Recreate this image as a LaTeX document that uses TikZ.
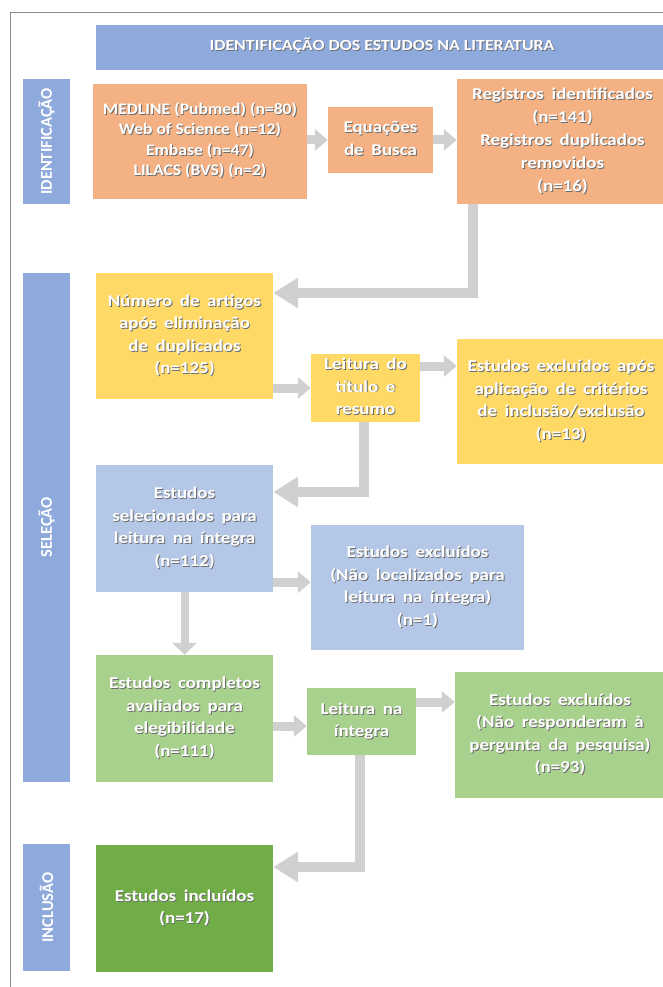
\documentclass[tikz,border=0pt]{standalone}
\usepackage{fontspec}
\usepackage{graphicx}
\setmainfont{Carlito}
\usetikzlibrary{arrows.meta,calc}

\definecolor{hdrblue}{HTML}{8EA9DB}
\definecolor{orng}{HTML}{F4B183}
\definecolor{yell}{HTML}{FFD966}
\definecolor{lblue}{HTML}{B4C7E7}
\definecolor{lgreen}{HTML}{A9D18E}
\definecolor{dgreen}{HTML}{70AD47}
\definecolor{arrowgray}{HTML}{D0D0D0}
\definecolor{shade}{HTML}{6E6E6E}
\definecolor{framegray}{HTML}{8C8C8C}

% wider gaps between words
\newcommand\wordgaps{\spaceskip 0.4em\relax}
% white text, widened, with a soft dark drop shadow
\newcommand\shadowed[2][1.15]{\leavevmode\scalebox{#1}[1]{\rlap{\kern0.8pt\raisebox{-0.8pt}{\color{shade}\begin{tabular}{@{}c@{}}#2\end{tabular}}}\begin{tabular}{@{}c@{}}#2\end{tabular}}}

\tikzset{
  box/.style={rectangle, inner sep=0pt, text=white,
    font=\bfseries\fontsize{16.5}{22.5}\selectfont\wordgaps},
  lbl/.style={rectangle, inner sep=0pt, fill=hdrblue, text=white,
    font=\bfseries\fontsize{16.5}{18}\selectfont},
  arr/.style={draw=arrowgray, line width=9pt, -{Triangle[length=13pt,width=21pt]}},
  elbow/.style={draw=arrowgray, line width=10pt, -{Triangle[length=25pt,width=29pt]}},
}

\begin{document}
\begin{tikzpicture}[x=1pt, y=-1pt]
\useasboundingbox (0,0) rectangle (663,987);
\clip (0,0) rectangle (663,987);

% outer frame
\draw[framegray, line width=1pt] (10,1000) -- (10,13) -- (700,13);

% header band
\node[box, fill=hdrblue, minimum width=572pt, minimum height=45pt,
      font=\bfseries\fontsize{15.5}{17}\selectfont] (hdr) at (382,47.5)
  {\shadowed{IDENTIFICAÇÃO DOS ESTUDOS NA LITERATURA}};

% phase labels
\node[lbl, rotate=90, minimum width=125pt, minimum height=47pt] (idl) at (46.5,141.5) {IDENTIFICAÇÃO};
\node[lbl, rotate=90, minimum width=509pt, minimum height=47pt] (sll) at (46.5,527.5) {SELEÇÃO};
\node[lbl, rotate=90, minimum width=127pt, minimum height=47pt] (icl) at (46.5,907.5) {INCLUSÃO};

% identification
\node[box, fill=orng, minimum width=214pt, minimum height=115pt,
      font=\bfseries\fontsize{16}{20.5}\selectfont] (medline) at (200,141.5)
  {\shadowed[1.1]{MEDLINE (Pubmed) (n=80)\\Web of Science (n=12)\\Embase (n=47)\\LILACS (BVS) (n=2)}};
\node[box, fill=orng, minimum width=105pt, minimum height=66pt] (equ) at (380.5,140)
  {\shadowed{Equações\\de Busca}};
\node[box, fill=orng, minimum width=211pt, minimum height=125pt,
      font=\bfseries\fontsize{16.5}{23}\selectfont\wordgaps] (reg) at (562.5,141.5)
  {\shadowed{Registros identificados\\(n=141)\\Registros duplicados\\removidos\\(n=16)}};

% screening
\node[box, fill=yell, minimum width=177pt, minimum height=126pt] (num) at (184.5,336)
  {\shadowed{Número de artigos\\após eliminação\\de duplicados\\(n=125)}};
\node[box, fill=yell, minimum width=109pt, minimum height=68pt] (lt) at (365.5,388)
  {\shadowed{Leitura do\\título e\\resumo}};
\node[box, fill=yell, minimum width=208pt, minimum height=125pt] (exc1) at (561,401.5)
  {\shadowed{Estudos excluídos após\\aplicação de critérios\\de inclusão/exclusão\\(n=13)}};

\node[box, fill=lblue, minimum width=177pt, minimum height=127pt] (sel) at (184.5,528.5)
  {\shadowed{Estudos\\selecionados para\\leitura na íntegra\\(n=112)}};
\node[box, fill=lblue, minimum width=213pt, minimum height=125pt] (nl) at (417.5,587.5)
  {\shadowed{Estudos excluídos\\(Não localizados para\\leitura na íntegra)\\(n=1)}};

\node[box, fill=lgreen, minimum width=177pt, minimum height=127pt] (comp) at (184.5,718.5)
  {\shadowed{Estudos completos\\avaliados para\\elegibilidade\\(n=111)}};
\node[box, fill=lgreen, minimum width=109pt, minimum height=67pt] (li) at (361.5,721.5)
  {\shadowed{Leitura na\\íntegra}};
\node[box, fill=lgreen, minimum width=210pt, minimum height=126pt] (exc2) at (560,735)
  {\shadowed{Estudos excluídos\\(Não responderam à\\pergunta da pesquisa)\\(n=93)}};

% inclusion
\node[box, fill=dgreen, minimum width=177pt, minimum height=127pt] (inc) at (184.5,908.5)
  {\shadowed{Estudos incluídos\\(n=17)}};

% straight connectors
\draw[arr] (medline.east |- equ.west) -- (equ.west);
\draw[arr] (equ.east) -- (reg.west |- equ.east);
\draw[arr] (num.east |- lt.west) -- (lt.west);
\coordinate (ltout) at ([yshift=22pt]lt.east);
\draw[arr] (ltout) -- (ltout -| exc1.west);
\coordinate (selout) at ([yshift=10pt]sel.south east);
\draw[arr] (selout) -- (selout -| nl.west);
\draw[draw=arrowgray, line width=8pt, -{Triangle[length=12pt,width=24pt]}] (sel.south) -- (comp.north);
\coordinate (compout) at ([yshift=-7.5pt]comp.east);
\draw[arr] (compout) -- (compout -| li.west);
\coordinate (liout) at ([yshift=19.5pt]li.east);
\draw[arr] (liout) -- (liout -| exc2.west);

% elbow connectors
\draw[elbow] ([xshift=16pt]reg.south west) |- ([yshift=43pt]num.east);
\draw[elbow] ([xshift=-1.5pt]lt.south) |- ([yshift=36.5pt]sel.east);
\draw[elbow] ([xshift=-1.5pt]li.south) |- ([yshift=41.5pt]inc.east);
\end{tikzpicture}
\end{document}
